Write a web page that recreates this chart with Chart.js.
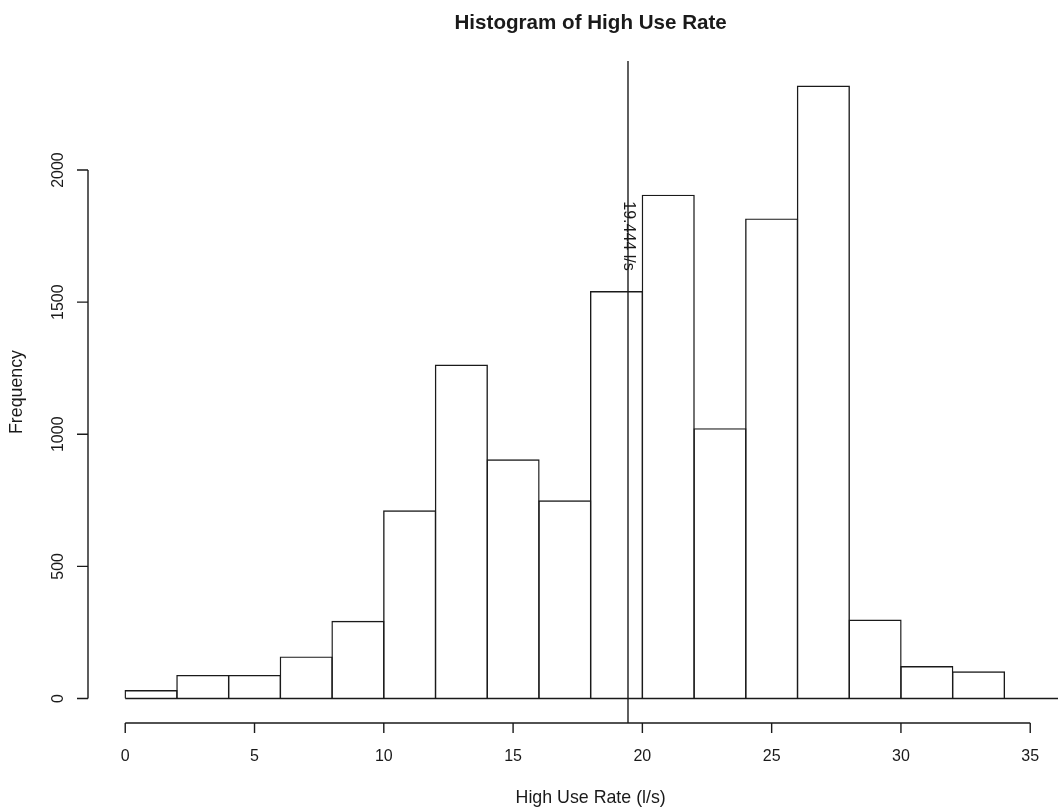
<!DOCTYPE html>
<html lang="en">
<head>
    <meta charset="UTF-8">
    <title>Histogram of High Use Rate</title>
    <style>
        html, body {
            margin: 0;
            padding: 0;
            background: #fff;
        }
        canvas {
            display: block;
        }
    </style>
</head>
<body>
    <canvas id="histChart" width="1058" height="808"></canvas>

    <script src="https://cdn.jsdelivr.net/npm/chart.js"></script>
    <script>
        // bin edges (l/s) and counts per bin
        const binEdges = [0, 2, 4, 6, 8, 10, 12, 14, 16, 18, 20, 22, 24, 26, 28, 30, 32, 34];
        const counts = [32, 89, 89, 159, 294, 712, 1264, 905, 750, 1542, 1907, 1023, 1817, 2320, 299, 123, 103];

        // axis ticks
        const xTicks = [0, 5, 10, 15, 20, 25, 30, 35];
        const yTicks = [0, 500, 1000, 1500, 2000];

        // marked value
        const meanRate = 19.444;
        const meanLabel = meanRate + ' l/s';

        const titleText = 'Histogram of High Use Rate';
        const xTitle = 'High Use Rate (l/s)';
        const yTitle = 'Frequency';

        const ink = '#1a1a1a';
        const lw = 1.4;
        const font = '"Liberation Sans", Arial, sans-serif';

        // R style ranges: xlim 0..36, ylim 0..max, each padded 4%
        const xMin = -1.44;
        const pxPerUnit = 25.857;
        const xMax = xMin + (1058 - 88) / pxPerUnit;
        const yMin = -0.04 * 2320;
        const yMax = 2320 * 1.04;

        const binWidth = binEdges[1] - binEdges[0];
        const bars = counts.map((c, i) => ({ x: binEdges[i] + binWidth / 2, y: c }));

        // R-like axes, titles and the mean label
        const rAxes = {
            id: 'rAxes',
            afterDraw(chart) {
                const { ctx, chartArea, scales: { x, y } } = chart;
                ctx.save();
                ctx.strokeStyle = ink;
                ctx.fillStyle = ink;
                ctx.lineWidth = lw;

                // x axis
                const ax = chartArea.bottom;
                ctx.beginPath();
                ctx.moveTo(x.getPixelForValue(xTicks[0]), ax);
                ctx.lineTo(x.getPixelForValue(xTicks[xTicks.length - 1]), ax);
                xTicks.forEach(t => {
                    const px = x.getPixelForValue(t);
                    ctx.moveTo(px, ax);
                    ctx.lineTo(px, ax + 10);
                });
                // y axis
                const ay = chartArea.left;
                ctx.moveTo(ay, y.getPixelForValue(yTicks[0]));
                ctx.lineTo(ay, y.getPixelForValue(yTicks[yTicks.length - 1]));
                yTicks.forEach(t => {
                    const py = y.getPixelForValue(t);
                    ctx.moveTo(ay, py);
                    ctx.lineTo(ay - 11, py);
                });
                ctx.stroke();

                ctx.font = '16px ' + font;
                ctx.textAlign = 'center';
                ctx.textBaseline = 'alphabetic';
                xTicks.forEach(t => {
                    ctx.fillText(String(t), x.getPixelForValue(t), 761);
                });
                yTicks.forEach(t => {
                    ctx.save();
                    ctx.translate(63, y.getPixelForValue(t));
                    ctx.rotate(-Math.PI / 2);
                    ctx.fillText(String(t), 0, 0);
                    ctx.restore();
                });

                // axis titles
                const midX = x.getPixelForValue(18);
                const midY = (chartArea.top + chartArea.bottom) / 2;
                ctx.font = '17.8px ' + font;
                ctx.fillText(xTitle, midX, 802.5);
                ctx.save();
                ctx.translate(22, midY);
                ctx.rotate(-Math.PI / 2);
                ctx.fillText(yTitle, 0, 0);
                ctx.restore();

                // main title
                ctx.font = 'bold 20.6px ' + font;
                ctx.fillText(titleText, midX, 29);

                // label along the mean line
                ctx.font = '16px ' + font;
                ctx.save();
                ctx.translate(x.getPixelForValue(meanRate) - 4, 236);
                ctx.rotate(Math.PI / 2);
                ctx.fillText(meanLabel, 0, 0);
                ctx.restore();

                ctx.restore();
            }
        };

        const ctx = document.getElementById('histChart').getContext('2d');
        new Chart(ctx, {
            type: 'bar',
            data: {
                datasets: [
                    {
                        type: 'bar',
                        data: bars,
                        backgroundColor: 'rgba(0,0,0,0)',
                        borderColor: ink,
                        borderWidth: lw,
                        borderSkipped: 'start',
                        categoryPercentage: 1,
                        // widen by one line width so shared edges overlap
                        barPercentage: 1 + lw / (binWidth * pxPerUnit),
                        grouped: false
                    },
                    {
                        type: 'line',
                        data: [{ x: 0, y: 0 }, { x: xMax, y: 0 }],
                        borderColor: ink,
                        borderWidth: lw,
                        pointRadius: 0,
                        clip: false
                    },
                    {
                        type: 'line',
                        data: [{ x: meanRate, y: yMin }, { x: meanRate, y: yMax }],
                        borderColor: ink,
                        borderWidth: lw,
                        pointRadius: 0
                    }
                ]
            },
            options: {
                responsive: false,
                animation: false,
                layout: {
                    padding: { left: 88, right: 0, top: 61, bottom: 85 }
                },
                plugins: {
                    legend: { display: false },
                    tooltip: { enabled: false },
                    title: { display: false }
                },
                scales: {
                    x: {
                        type: 'linear',
                        display: false,
                        offset: false,
                        min: xMin,
                        max: xMax
                    },
                    y: {
                        type: 'linear',
                        display: false,
                        min: yMin,
                        max: yMax
                    }
                }
            },
            plugins: [rAxes]
        });
    </script>
</body>
</html>
